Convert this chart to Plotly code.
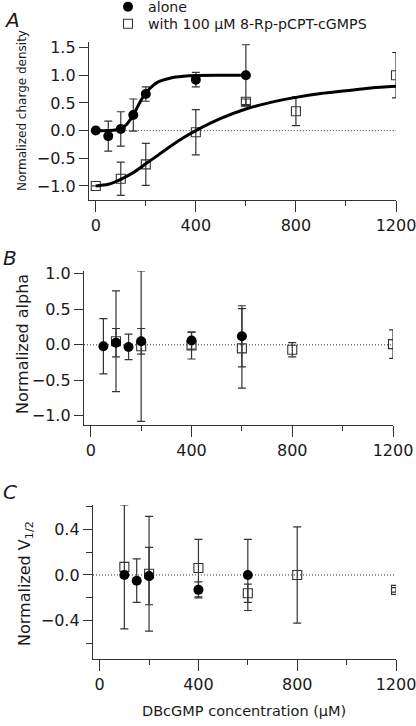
import plotly.graph_objects as go

# ---------------- data ----------------
# Panel A: normalized charge density
A_alone_x = [0, 50, 100, 150, 200, 400, 600]
A_alone_y = [0.0, -0.1, 0.03, 0.28, 0.66, 0.92, 1.0]
A_alone_err = [0, 0.27, 0.31, 0.29, 0.13, 0.13, 0.55]

A_with_x = [0, 100, 200, 400, 600, 800, 1200]
A_with_y = [-1.0, -0.87, -0.61, -0.03, 0.52, 0.35, 1.0]
A_with_err = [0, 0.3, 0.38, 0.41, 0.05, 0.26, 0.41]

# fitted curves
fit_alone_x = [0, 50, 100, 125, 150, 175, 200, 225, 250, 300, 350, 400, 500, 600]
fit_alone_y = [0.0, 0.0, 0.03, 0.12, 0.28, 0.5, 0.68, 0.8, 0.88, 0.95, 0.98, 0.995, 1.0, 1.0]

fit_with_x = [0, 50, 100, 150, 200, 250, 300, 350, 400, 500, 600, 700, 800, 900, 1000, 1100, 1200]
fit_with_y = [-1.0, -0.97, -0.88, -0.76, -0.6, -0.44, -0.28, -0.13, 0.0, 0.22, 0.39, 0.51, 0.6, 0.67, 0.72, 0.77, 0.8]

# Panel B: normalized alpha
B_alone_x = [50, 100, 150, 200, 400, 600]
B_alone_y = [-0.02, 0.03, -0.03, 0.05, 0.06, 0.12]
B_alone_err = [0.39, 0.2, 0.18, 0.18, 0.12, 0.43]

B_with_x = [100, 200, 400, 600, 800, 1200]
B_with_y = [0.05, -0.02, -0.01, -0.05, -0.07, 0.01]
B_with_err = [0.71, 1.06, 0.19, 0.56, 0.1, 0.2]

# Panel C: normalized V1/2
C_alone_x = [100, 150, 200, 400, 600]
C_alone_y = [0.0, -0.05, -0.01, -0.13, 0.0]
C_alone_err = [0, 0.19, 0.25, 0.07, 0.31]

C_with_x = [100, 200, 400, 600, 800, 1200]
C_with_y = [0.07, 0.01, 0.06, -0.16, 0.0, -0.13]
C_with_err = [0.54, 0.5, 0.25, 0.08, 0.42, 0.02]

x_tickvals = [0, 400, 800, 1200]
x_minor = [200, 600, 1000]

name_alone = "alone"
name_with = "with 100 \u03bcM 8-Rp-pCPT-cGMPS"

# ---------------- figure ----------------
W, H = 416, 726
FONT = "DejaVu Sans"
INK = "#1a1a1a"
AX = "#333333"

fig = go.Figure()


def err(vals):
    return dict(type="data", array=vals, visible=True, color=AX, thickness=1.2, width=4)


def add_panel(k, ax, ay, aerr, wx, wy, werr, legend=False):
    xa = "x" if k == 1 else f"x{k}"
    ya = "y" if k == 1 else f"y{k}"
    fig.add_trace(go.Scatter(
        x=wx, y=wy, mode="markers", name=name_with, showlegend=legend, legend="legend2",
        error_y=err(werr), xaxis=xa, yaxis=ya,
        marker=dict(symbol="square-open", size=9, color=AX, line=dict(width=1.1, color=AX)),
    ))
    fig.add_trace(go.Scatter(
        x=ax, y=ay, mode="markers", name=name_alone, showlegend=legend, legend="legend",
        error_y=err(aerr), xaxis=xa, yaxis=ya,
        marker=dict(symbol="circle", size=10, color="black"),
    ))


# zero reference lines (drawn first)
for k in (1, 2, 3):
    xa = "x" if k == 1 else f"x{k}"
    ya = "y" if k == 1 else f"y{k}"
    fig.add_trace(go.Scatter(
        x=[0 if k == 1 else -27, 1200], y=[0, 0], mode="lines", showlegend=False,
        line=dict(color=AX, width=1, dash="1px,2px"), xaxis=xa, yaxis=ya, hoverinfo="skip",
    ))

add_panel(1, A_alone_x, A_alone_y, A_alone_err, A_with_x, A_with_y, A_with_err, legend=True)
add_panel(2, B_alone_x, B_alone_y, B_alone_err, B_with_x, B_with_y, B_with_err)
add_panel(3, C_alone_x, C_alone_y, C_alone_err, C_with_x, C_with_y, C_with_err)

fig.add_trace(go.Scatter(x=fit_alone_x, y=fit_alone_y, mode="lines", showlegend=False,
                         line=dict(color="black", width=3, shape="spline", smoothing=0.8),
                         xaxis="x", yaxis="y", hoverinfo="skip"))
fig.add_trace(go.Scatter(x=fit_with_x, y=fit_with_y, mode="lines", showlegend=False,
                         line=dict(color="black", width=3, shape="spline", smoothing=0.8),
                         xaxis="x", yaxis="y", hoverinfo="skip"))


def px_x(p):
    return p / W


def px_y(p):
    return 1 - p / H


tickfont = dict(family=FONT, size=16, color=INK)


def xaxis_def(x0, x1, anchor):
    return dict(
        domain=[px_x(x0), px_x(x1)], anchor=anchor, range=[-27, 1200],
        showline=True, linecolor=AX, linewidth=1.3, mirror=False,
        ticks="outside", ticklen=11, tickwidth=1.3, tickcolor=AX,
        tickvals=x_tickvals, ticktext=[str(v) for v in x_tickvals],
        minor=dict(tickvals=x_minor, ticks="outside", ticklen=5, tickwidth=1.3, tickcolor=AX),
        showgrid=False, zeroline=False, tickfont=tickfont, automargin=False, fixedrange=True,
        ticklabeloverflow="allow",
    )


def yaxis_def(y0, y1, anchor, rng, tvals, minor=None):
    d = dict(
        domain=[px_y(y1), px_y(y0)], anchor=anchor, range=rng,
        showline=True, linecolor=AX, linewidth=1.3,
        ticks="outside", ticklen=9, tickwidth=1.3, tickcolor=AX,
        tickvals=tvals, tickformat=".1f",
        showgrid=False, zeroline=False, tickfont=tickfont, automargin=False, fixedrange=True,
        ticklabeloverflow="allow",
    )
    if minor:
        d["minor"] = dict(tickvals=minor, ticks="outside", ticklen=6, tickwidth=1.3, tickcolor=AX)
    return d


legfont = dict(family=FONT, size=14.2, color=INK)

fig.update_layout(
    width=W, height=H,
    margin=dict(l=0, r=0, t=0, b=0, autoexpand=False),
    paper_bgcolor="white", plot_bgcolor="white",
    font=dict(family=FONT, color=INK),
    xaxis=xaxis_def(89, 396, "y"),
    yaxis=yaxis_def(42, 200, "x", [-1.254, 1.6], [-1.0, -0.5, 0.0, 0.5, 1.0, 1.5]),
    xaxis2=xaxis_def(84, 393, "y2"),
    yaxis2=yaxis_def(271, 425, "x2", [-1.13, 1.04], [-1.0, -0.5, 0.0, 0.5, 1.0]),
    xaxis3=xaxis_def(93, 396, "y3"),
    yaxis3=yaxis_def(505, 659, "x3", [-0.733, 0.61], [-0.4, 0.0, 0.4], minor=[-0.6, -0.2, 0.2, 0.6]),
    showlegend=True,
    legend=dict(x=px_x(108), y=px_y(7), xanchor="left", yanchor="middle",
                font=legfont, bgcolor="rgba(0,0,0,0)", itemwidth=30),
    legend2=dict(x=px_x(108), y=px_y(24), xanchor="left", yanchor="middle",
                 font=legfont, bgcolor="rgba(0,0,0,0)", itemwidth=30),
)

ann = []


def note(text, x, y, size, angle=0):
    ann.append(dict(text=text, x=px_x(x), y=px_y(y), xref="paper", yref="paper",
                    xanchor="center", yanchor="middle", textangle=angle,
                    showarrow=False, font=dict(family=FONT, size=size, color=INK)))


note("<i>A</i>", 12, 20, 20)
note("<i>B</i>", 10, 258, 20)
note("<i>C</i>", 10, 492, 20)
note("Normalized charge density", 22, 111, 12, -90)
note("Normalized alpha", 22, 344, 16, -90)
note("Normalized V<sub>1/2</sub>", 25, 584, 16, -90)
note("DBcGMP concentration (\u03bcM)", 244, 711, 14.5)
fig.update_layout(annotations=ann)

fig.write_html("out.html", config={"displayModeBar": False},
               post_script="document.body.style.margin='0';document.body.style.padding='0';")
